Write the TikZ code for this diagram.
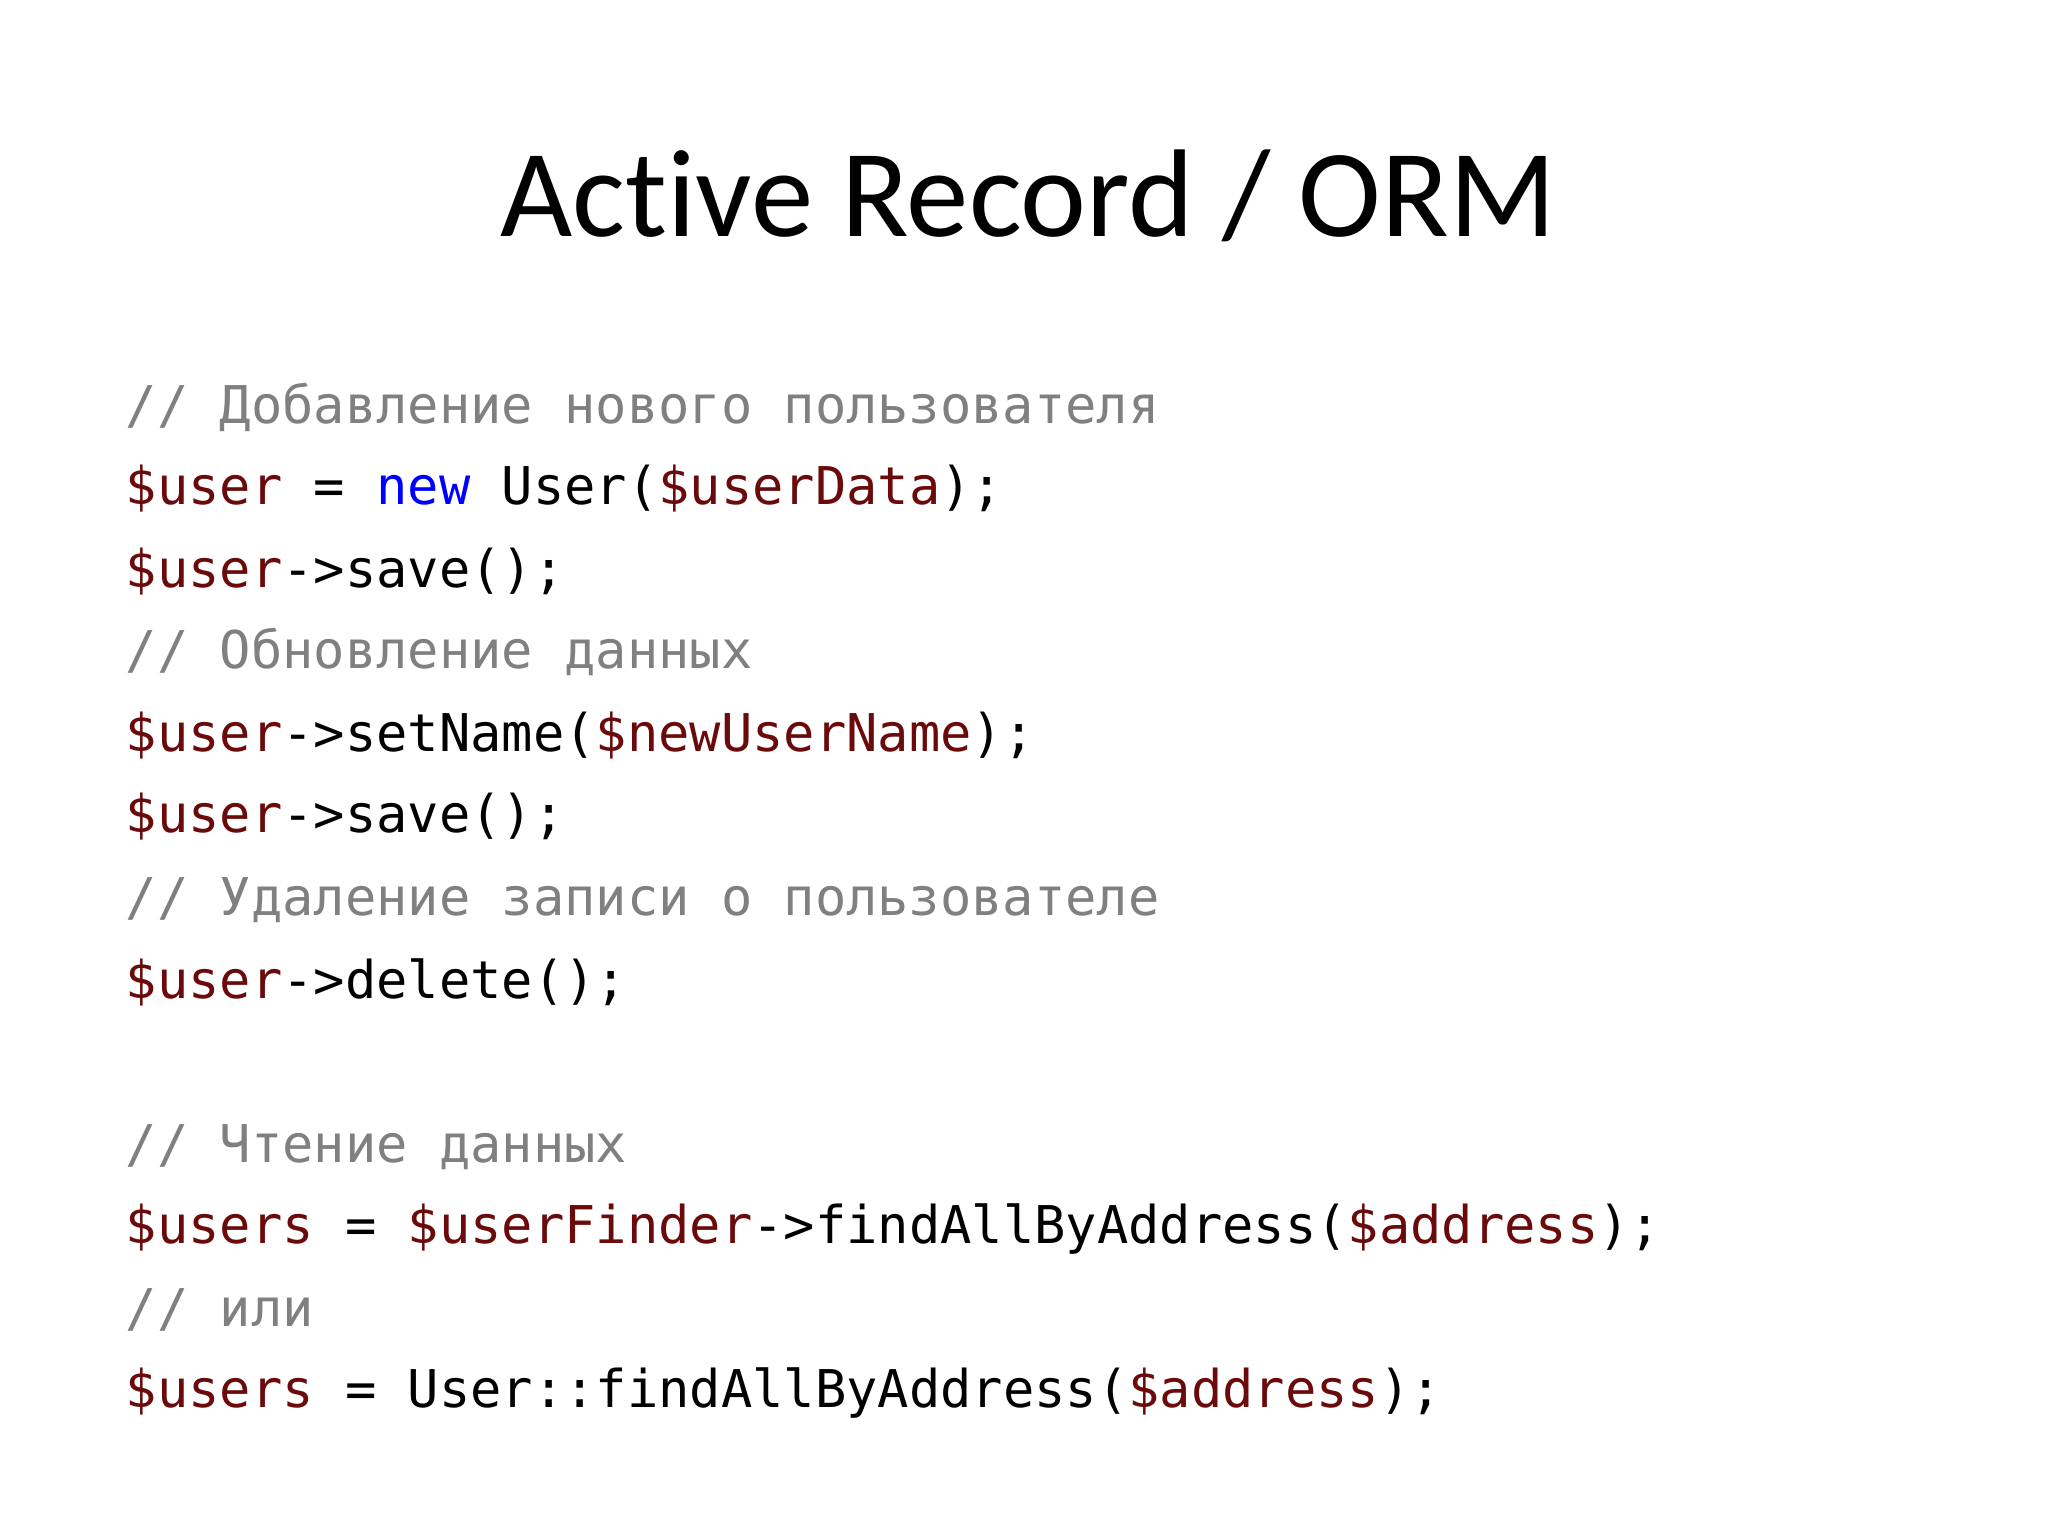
\documentclass[tikz,border=0pt]{standalone}
\usepackage{fontspec}
\setmainfont[Ligatures={NoCommon,NoRare}]{Carlito}
\newfontfamily\codefont{DejaVu Sans Mono}
\definecolor{var}{HTML}{6B0A0A}
\definecolor{cmt}{HTML}{808080}
\definecolor{kw}{HTML}{0000FF}
\begin{document}
\begin{tikzpicture}[x=0.01cm,y=-0.01cm,
  code/.style={anchor=base west,inner sep=0,font=\codefont\fontsize{14.8pt}{16pt}\selectfont},
  ttl/.style={anchor=base,inner sep=0,font=\fontsize{35.5pt}{42pt}\selectfont}]
\useasboundingbox (0,0) rectangle (2048,1536);
\fill[white] (0,0) rectangle (2048,1536);
\newcommand\V[1]{\textcolor{var}{#1}}
\newcommand\C[1]{\textcolor{cmt}{#1}}
\node[ttl] (title) at (1028,236) {Active Record / ORM};
\node[code] (l1) at (125,423) {\C{// Добавление нового пользователя}};
\node[code] (l2) at (125,504) {\V{\$user} = \textcolor{kw}{new} User(\V{\$userData});};
\node[code] (l3) at (125,587) {\V{\$user}->save();};
\node[code] (l4) at (125,668) {\C{// Обновление данных}};
\node[code] (l5) at (125,751) {\V{\$user}->setName(\V{\$newUserName});};
\node[code] (l6) at (125,832) {\V{\$user}->save();};
\node[code] (l7) at (125,915) {\C{// Удаление записи о пользователе}};
\node[code] (l8) at (125,998) {\V{\$user}->delete();};
\node[code] (l9) at (125,1162) {\C{// Чтение данных}};
\node[code] (l10) at (125,1243) {\V{\$users} = \V{\$userFinder}->findAllByAddress(\V{\$address});};
\node[code] (l11) at (125,1326) {\C{// или}};
\node[code] (l12) at (125,1407) {\V{\$users} = User::findAllByAddress(\V{\$address});};
\end{tikzpicture}
\end{document}
